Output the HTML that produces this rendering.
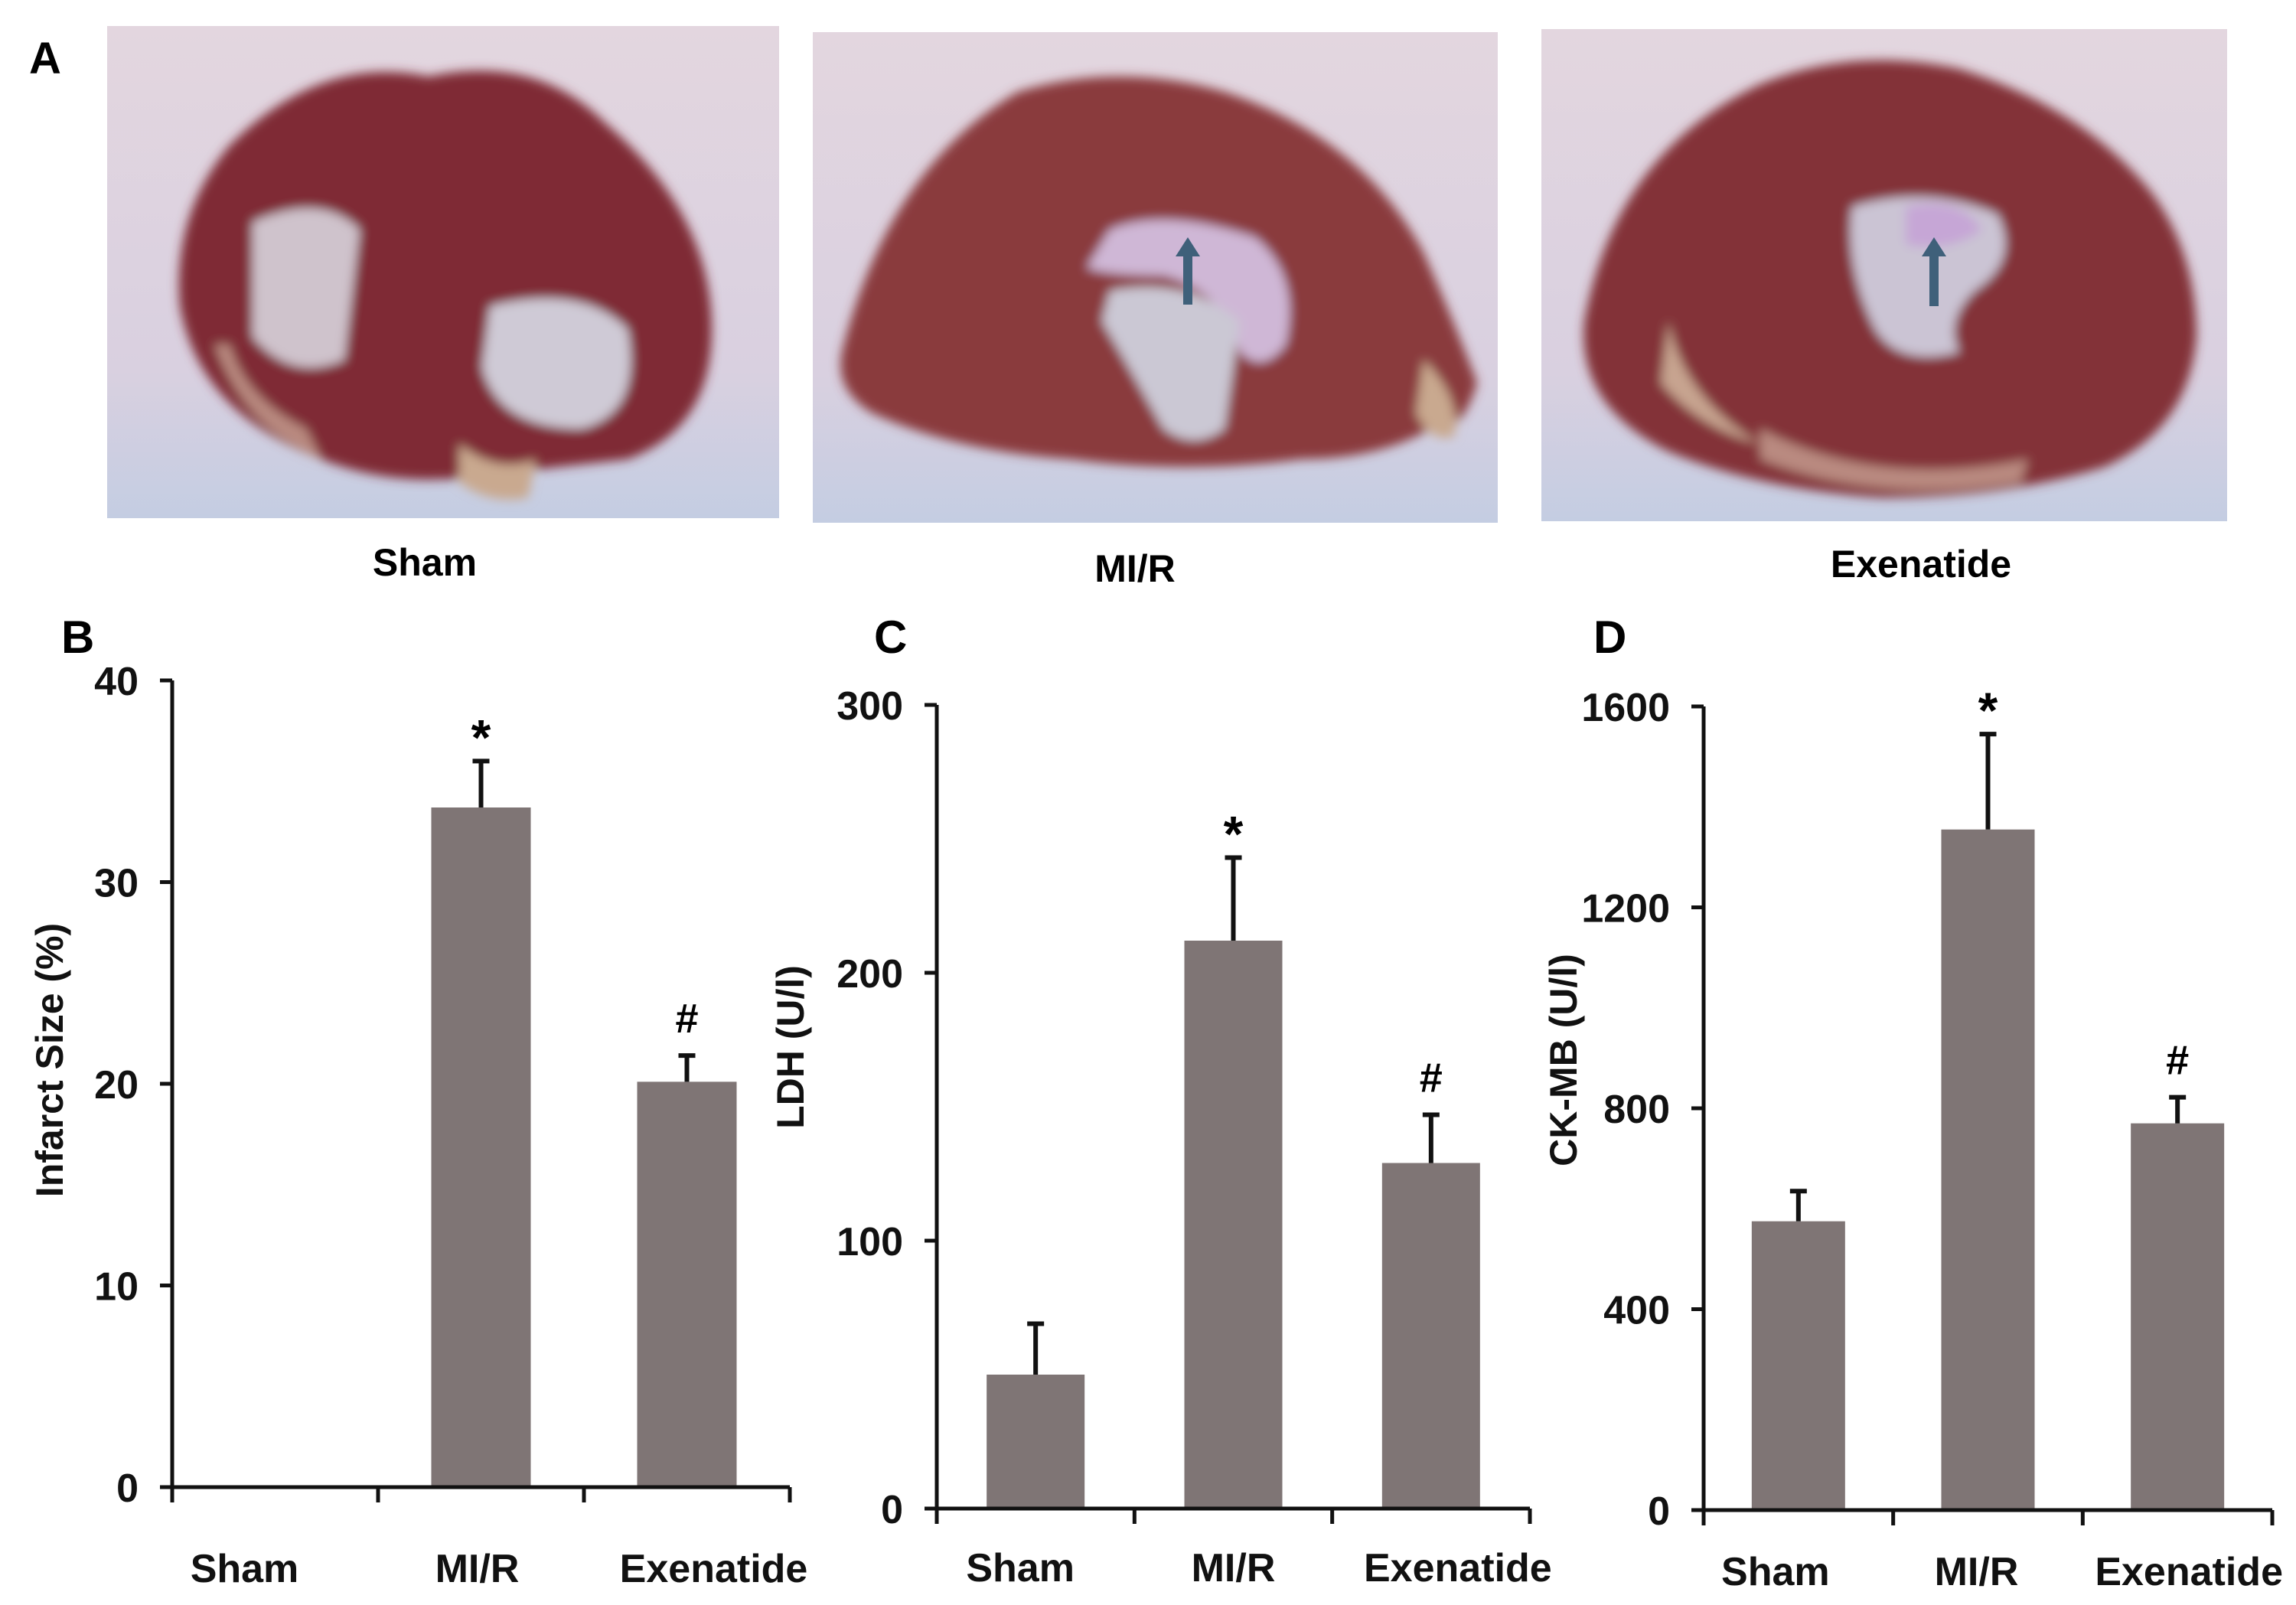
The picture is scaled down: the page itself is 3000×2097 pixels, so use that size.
<!DOCTYPE html>
<html><head><meta charset="utf-8"><style>
body{margin:0;background:#fff;}
svg{display:block;font-family:"Liberation Sans",Arial,sans-serif;font-weight:bold;}
</style></head><body>
<svg id="fig" width="3000" height="2097" viewBox="0 0 3000 2097" xmlns="http://www.w3.org/2000/svg">
<defs>
<filter id="blur"><feGaussianBlur stdDeviation="7"/></filter>
<linearGradient id="bg" x1="0" y1="0" x2="0" y2="1"><stop offset="0" stop-color="#e3d6df"/><stop offset="0.7" stop-color="#d9d0e0"/><stop offset="1" stop-color="#c4cde2"/></linearGradient>
</defs>
<text x="38" y="96" font-size="58">A</text>
<g>
<rect x="140" y="34" width="878" height="643" fill="url(#bg)"/>
<g filter="url(#blur)">
<path d="M300 190 Q420 70 560 100 Q700 70 790 160 Q930 280 930 430 Q930 560 820 600 L640 620 Q520 640 420 600 Q260 540 235 400 Q225 280 300 190Z" fill="#7f2c35"/>
<path d="M330 290 Q420 250 470 300 L450 470 Q380 500 330 440Z" fill="#cfc3cc"/>
<path d="M640 400 Q760 370 820 430 Q840 540 760 560 Q650 560 630 480Z" fill="#cfcad6"/>
<path d="M600 580 Q650 620 700 600 L690 650 Q640 660 600 630Z" fill="#c9a98f"/>
<path d="M280 450 Q320 560 420 600 L400 560 Q320 520 300 450Z" fill="#b98a80"/>
</g></g>
<g>
<rect x="1062" y="42" width="895" height="641" fill="url(#bg)"/>
<g filter="url(#blur)">
<path d="M1100 460 Q1160 220 1330 120 Q1460 80 1600 120 Q1780 180 1860 330 Q1900 420 1930 500 Q1910 570 1870 560 Q1800 600 1700 600 Q1550 620 1400 600 Q1250 590 1140 540 Q1090 510 1100 460Z" fill="#8a3a3c"/>
<path d="M1450 300 Q1520 270 1640 310 Q1700 360 1680 450 Q1650 490 1620 460 Q1600 380 1520 360 Q1450 360 1420 350Z" fill="#cfb7d6"/>
<path d="M1450 380 Q1550 360 1620 420 L1600 560 Q1560 590 1520 560 Q1470 470 1440 420Z" fill="#cbc8d4"/>
<path d="M1860 470 Q1910 520 1900 570 Q1870 580 1850 540Z" fill="#c9a98f"/>
</g>
<path d="M1552 398 L1552 330" stroke="#3f607a" stroke-width="12"/>
<path d="M1536 335 L1552 310 L1568 335Z" fill="#3f607a"/>
</g>
<g>
<rect x="2014" y="38" width="896" height="643" fill="url(#bg)"/>
<g filter="url(#blur)">
<path d="M2070 420 Q2110 200 2300 110 Q2420 60 2560 90 Q2720 140 2810 250 Q2870 330 2870 440 Q2860 560 2750 610 Q2620 650 2460 650 Q2300 640 2180 590 Q2060 530 2070 420Z" fill="#833238"/>
<path d="M2420 270 Q2520 240 2610 280 Q2640 340 2580 380 Q2540 420 2560 460 Q2480 480 2450 430 Q2410 350 2420 270Z" fill="#cbc4d4"/>
<path d="M2490 270 Q2560 255 2590 300 Q2550 330 2490 320Z" fill="#c6a6d6"/>
<path d="M2180 420 Q2200 520 2300 580 Q2220 560 2170 500Z" fill="#c7a490"/>
<path d="M2300 560 Q2450 640 2650 600 L2640 630 Q2450 660 2300 600Z" fill="#b98a80"/>
</g>
<path d="M2527 400 L2527 330" stroke="#3f607a" stroke-width="12"/>
<path d="M2511 335 L2527 310 L2543 335Z" fill="#3f607a"/>
</g>
<text x="555" y="752" font-size="50" text-anchor="middle">Sham</text>
<text x="1483" y="760" font-size="50" text-anchor="middle">MI/R</text>
<text x="2510" y="754" font-size="50" text-anchor="middle">Exenatide</text>
<g id="charts"></g>
</svg>
<script>
const categories = ["Sham", "MI/R", "Exenatide"];
const infarctValues = [0, 33.7, 20.1];
const infarctErrors = [0, 2.3, 1.3];
const infarctMarks = ["", "*", "#"];
const infarctTicks = [0, 10, 20, 30, 40];
const ldhValues = [50, 212, 129];
const ldhErrors = [19, 31, 18];
const ldhMarks = ["", "*", "#"];
const ldhTicks = [0, 100, 200, 300];
const ckValues = [575, 1355, 770];
const ckErrors = [60, 190, 52];
const ckMarks = ["", "*", "#"];
const ckTicks = [0, 400, 800, 1200, 1600];

const NS = "http://www.w3.org/2000/svg";
const root = document.getElementById('charts');
function mk(tag, attrs, parent) {
  const e = document.createElementNS(NS, tag);
  for (const k in attrs) e.setAttribute(k, attrs[k]);
  parent.appendChild(e);
  return e;
}
function chart(cfg) {
  const g = mk('g', {}, root);
  
  
  const max = cfg.ticks[cfg.ticks.length - 1];
  const y = v => cfg.y0 - (v / max) * (cfg.y0 - cfg.yTop);
  const bw = (cfg.x1 - cfg.x0) / categories.length;
  const xc = i => cfg.x0 + bw * (i + 0.5);
  const lt = mk('text', {x: cfg.lx, y: cfg.ly, 'font-size': 60}, g);
  lt.textContent = cfg.letter;
  
  
  cfg.values.forEach((v, i) => {
    const cx = xc(i);
    if (v > 0) {
      const r = mk('rect', {x: cx - cfg.barW / 2, y: y(v), width: cfg.barW, height: cfg.y0 - y(v), fill: '#7f7575'}, g);
      
      
      const top = y(v + cfg.errors[i]);
      const eb = mk('path', {d: `M${cx} ${y(v)} L${cx} ${top} M${cx - 11} ${top} L${cx + 11} ${top}`, stroke: '#111', 'stroke-width': 6, fill: 'none'}, g);
      
      
      if (cfg.marks[i]) {
        const m = mk('text', {x: cx, y: top - (cfg.marks[i] === '*' ? 8 : 30), 'font-size': cfg.marks[i] === '*' ? 66 : 54, 'text-anchor': 'middle'}, g);
        m.textContent = cfg.marks[i];
        
        
      }
    }
  });
  const ax = mk('path', {d: `M${cfg.x0} ${cfg.yTop} L${cfg.x0} ${cfg.y0 + 20} M${cfg.x0} ${cfg.y0} L${cfg.x1} ${cfg.y0}`, stroke: '#111', 'stroke-width': 5, fill: 'none'}, g);
  
  
  for (let i = 1; i <= categories.length; i++) {
    const tx = cfg.x0 + bw * i;
    const t = mk('line', {x1: tx, x2: tx, y1: cfg.y0, y2: cfg.y0 + 20, stroke: '#111', 'stroke-width': 5}, g);
    
    
  }
  cfg.ticks.forEach(tv => {
    const t = mk('line', {x1: cfg.x0 - 16, x2: cfg.x0, y1: y(tv), y2: y(tv), stroke: '#111', 'stroke-width': 5}, g);
    
    
    const l = mk('text', {x: cfg.x0 - 44, y: y(tv) + 19, 'font-size': 52, 'text-anchor': 'end', fill: '#111'}, g);
    l.textContent = tv;
    
    
  });
  categories.forEach((c, i) => {
    const l = mk('text', {x: cfg.x0 + bw * (i + 0.5) + cfg.labShift[i], y: cfg.catY, 'font-size': 52, 'text-anchor': 'middle', fill: '#111'}, g);
    l.textContent = c;
    
    
  });
  const yt = mk('text', {x: cfg.tx, y: cfg.ty, 'font-size': 50, 'text-anchor': 'middle', transform: `rotate(-90 ${cfg.tx} ${cfg.ty})`, fill: '#111'}, g);
  yt.textContent = cfg.title;
  
  
}
chart({name:'chart-infarct-size', letter:'B', lx:80, ly:853, x0:225, x1:1032, yTop:889, y0:1943, barW:130,
  values:infarctValues, errors:infarctErrors, marks:infarctMarks, ticks:infarctTicks, title:'Infarct Size (%)', tx:82, ty:1385,
  catY:2067, labShift:[-40, -5, 35]});
chart({name:'chart-ldh', letter:'C', lx:1142, ly:853, x0:1224, x1:1999, yTop:921, y0:1971, barW:128,
  values:ldhValues, errors:ldhErrors, marks:ldhMarks, ticks:ldhTicks, title:'LDH (U/l)', tx:1050, ty:1368,
  catY:2066, labShift:[-20, 0, 35]});
chart({name:'chart-ck-mb', letter:'D', lx:2082, ly:853, x0:2226, x1:2969, yTop:923, y0:1973, barW:122,
  values:ckValues, errors:ckErrors, marks:ckMarks, ticks:ckTicks, title:'CK-MB (U/l)', tx:2060, ty:1385,
  catY:2071, labShift:[-30, -15, 15]});
</script>
</body></html>
